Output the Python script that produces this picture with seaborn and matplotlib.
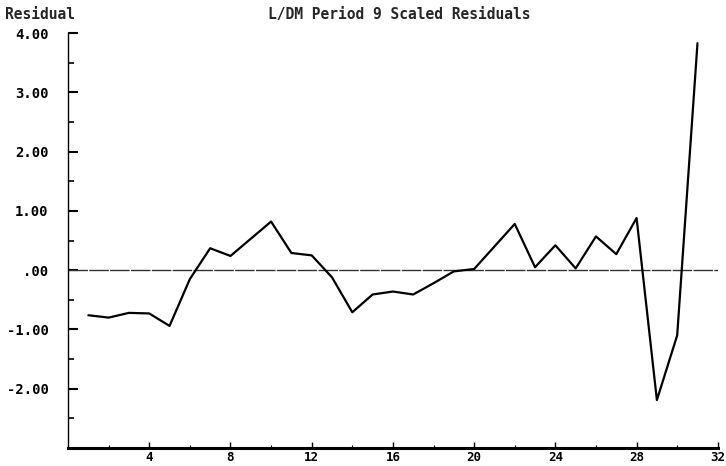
import numpy as np
import seaborn as sns
import matplotlib.pyplot as plt
from matplotlib.ticker import MultipleLocator

# residuals, one per period
periods = list(range(1, 32))
residuals = [-0.76, -0.80, -0.72, -0.73, -0.94, -0.15, 0.37, 0.24, 0.53, 0.82,
             0.29, 0.25, -0.12, -0.71, -0.41, -0.36, -0.41, -0.22, -0.02, 0.02,
             0.40, 0.78, 0.05, 0.42, 0.03, 0.57, 0.27, 0.88, -2.19, -1.10, 3.83]

x_ticks = [4, 8, 12, 16, 20, 24, 28, 32]
y_ticks = [-2, -1, 0, 1, 2, 3, 4]
y_labels = ['-2.00', '-1.00', '.00', '1.00', '2.00', '3.00', '4.00']

sns.set_style('white')
plt.rcParams['font.family'] = ['DejaVu Sans Mono']
plt.rcParams['font.weight'] = 'bold'

fig = plt.figure(figsize=(7.26, 4.66), dpi=100)
ax = fig.add_axes([0.0937, 0.0386, 0.895, 0.8904])

ax.axhline(0, color='#333333', lw=1.0, ls=(0, (14, 1)), zorder=1)
sns.lineplot(x=periods, y=residuals, ax=ax, color='black', lw=1.6, zorder=2)

ax.set_xlim(0, 32)
ax.set_ylim(-3, 4)
ax.set_xticks(x_ticks)
ax.set_xticklabels([str(t) for t in x_ticks])
ax.xaxis.set_minor_locator(MultipleLocator(2))
ax.set_yticks(y_ticks)
ax.set_yticklabels(y_labels)
ax.yaxis.set_minor_locator(MultipleLocator(0.5))

ax.tick_params(axis='both', which='both', direction='in', colors='black',
               bottom=True, left=True)
ax.tick_params(axis='y', which='major', length=7, width=1.5, pad=14, labelsize=10)
ax.tick_params(axis='y', which='minor', length=4, width=1.2)
ax.tick_params(axis='x', which='major', length=4, width=1.0, pad=2, labelsize=9)
ax.tick_params(axis='x', which='minor', length=2, width=0.8)

for s in ['top', 'right']:
    ax.spines[s].set_visible(False)
ax.spines['left'].set_linewidth(1.0)
ax.spines['bottom'].set_linewidth(2.2)
ax.spines['left'].set_color('black')
ax.spines['bottom'].set_color('black')

fig.text(0.007, 0.968, 'Residual', fontsize=10.5, fontweight='bold', va='center', ha='left')
fig.text(0.55, 0.968, 'L/DM Period 9 Scaled Residuals', fontsize=10.5,
         fontweight='bold', va='center', ha='center')

fig.savefig('out.png', dpi=100)
